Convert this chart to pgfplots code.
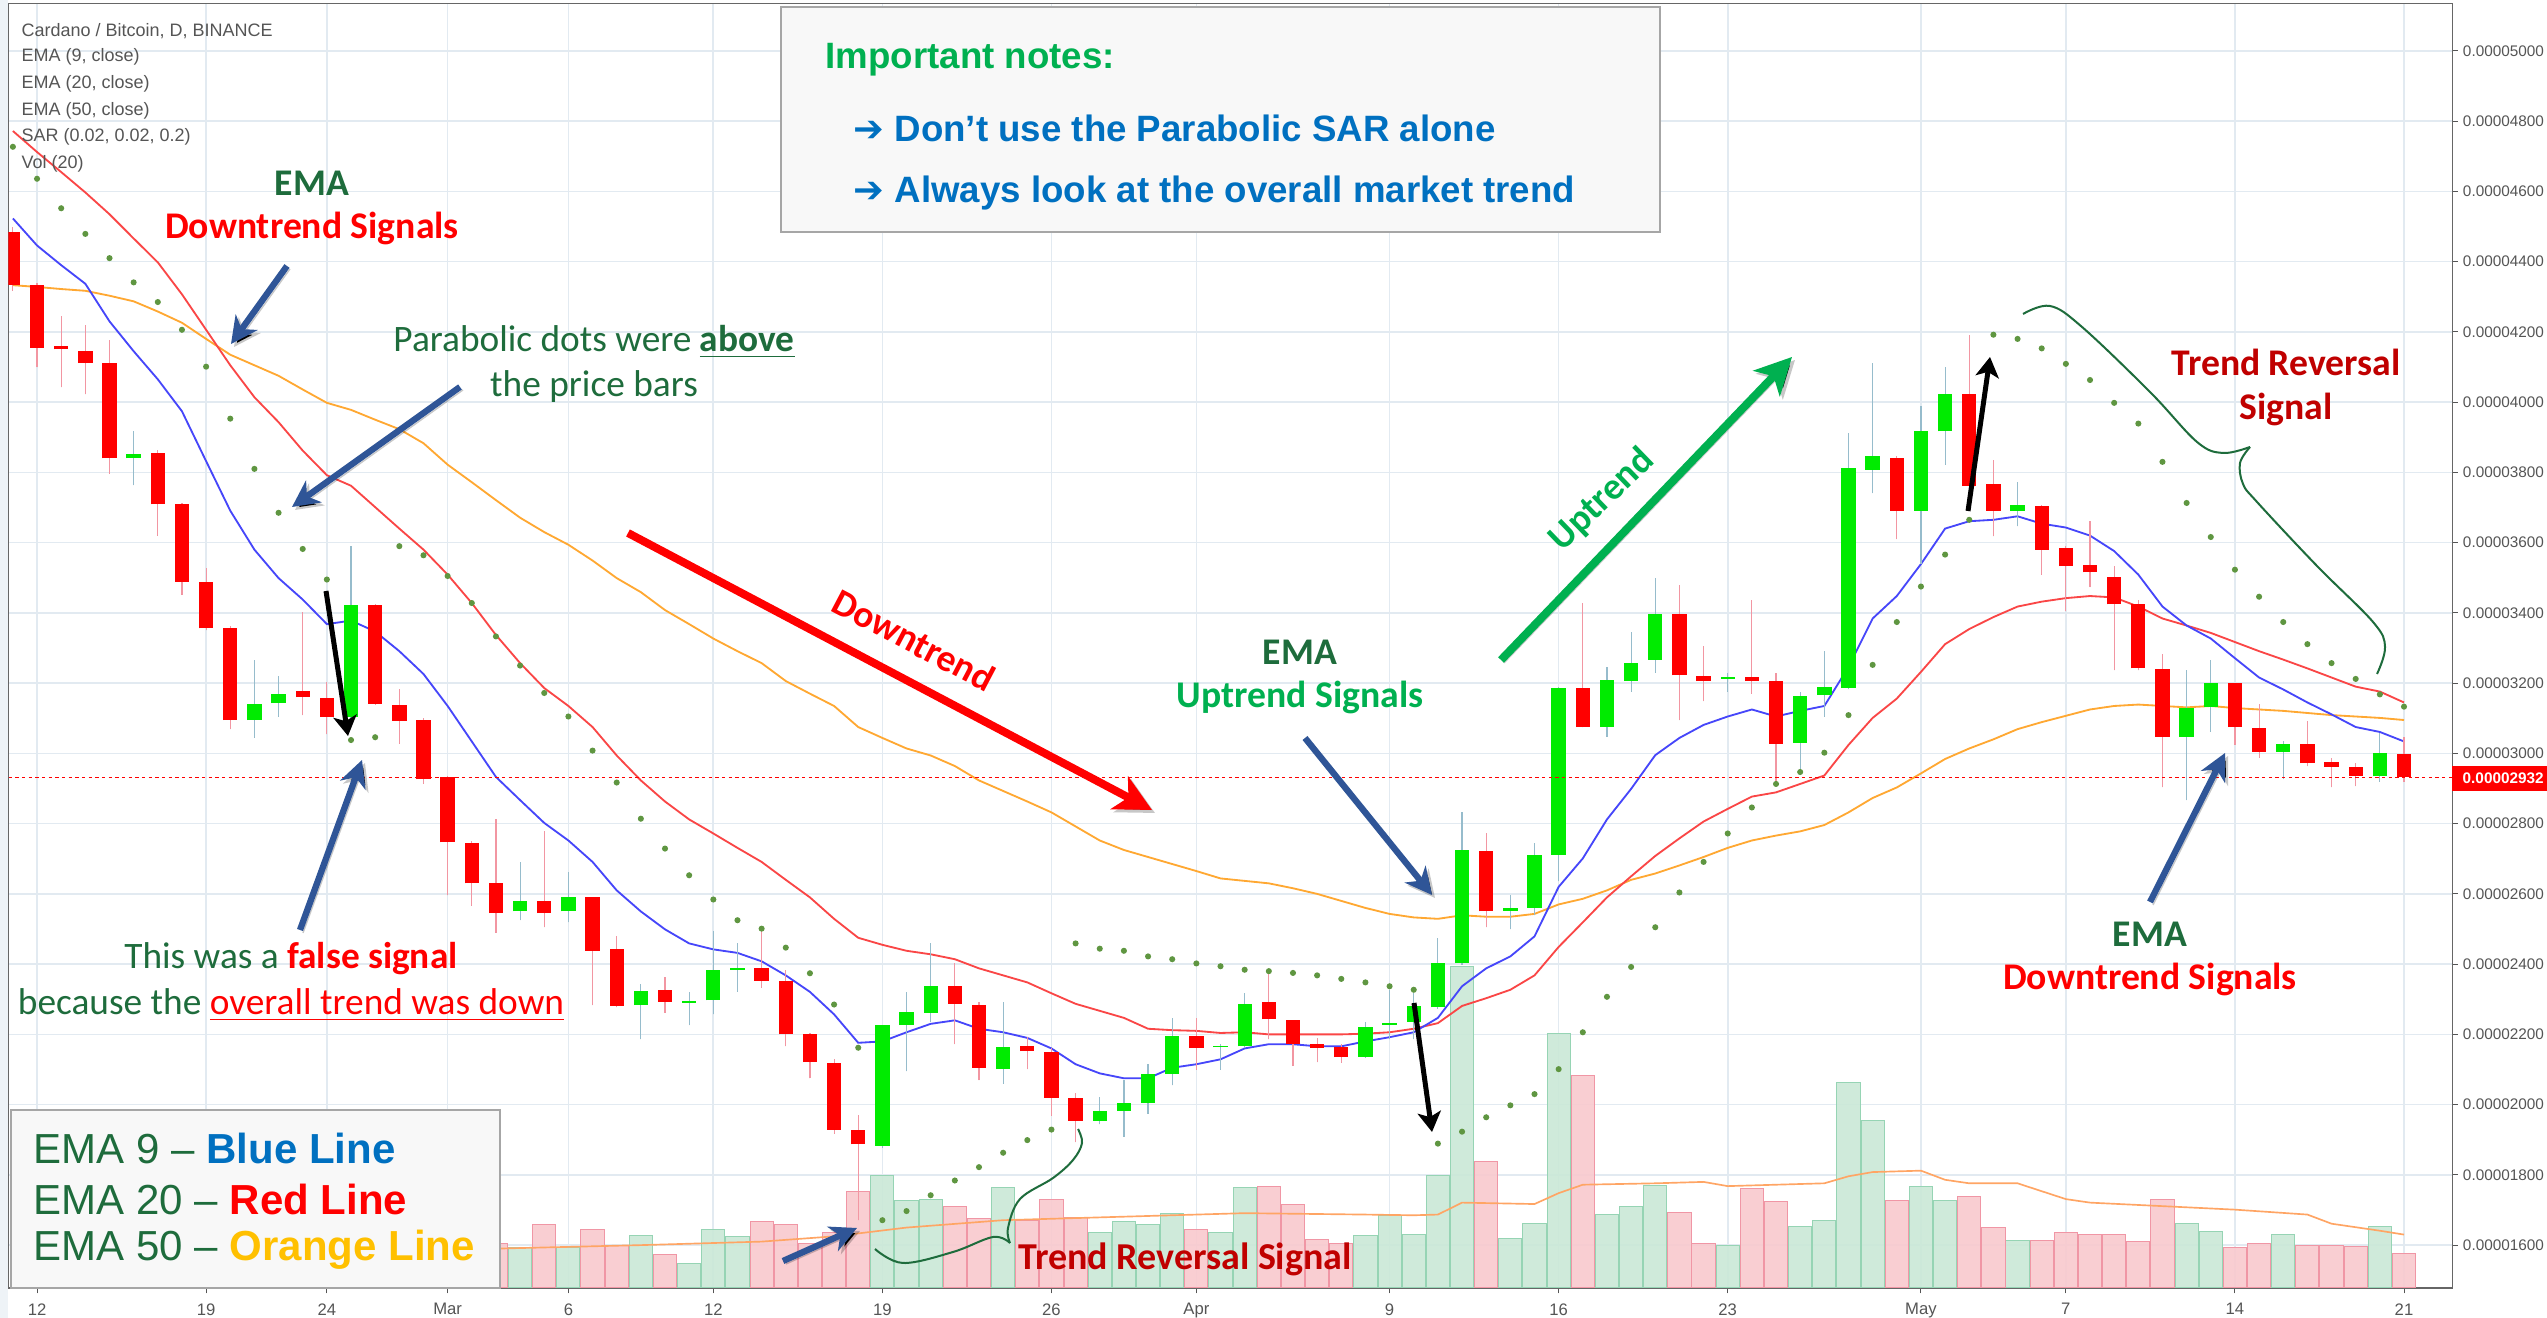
\documentclass[border=0pt]{standalone}
\usepackage{pgfplots}
\pgfplotsset{compat=1.18}
\usepackage{pgfplotstable}
\usepackage{fontspec}
\usetikzlibrary{arrows.meta}
\setmainfont{Carlito}
\newfontfamily\arial{Liberation Sans}
\newfontfamily\dejavu{DejaVu Sans}

\definecolor{gridc}{RGB}{226,234,241}
\definecolor{candleG}{RGB}{0,235,0}
\definecolor{candleR}{RGB}{255,0,0}
\definecolor{wickG}{RGB}{150,188,204}
\definecolor{wickR}{RGB}{242,150,162}
\definecolor{ema9}{RGB}{70,70,250}
\definecolor{ema20}{RGB}{250,70,70}
\definecolor{ema50}{RGB}{255,168,50}
\definecolor{sarc}{RGB}{95,150,65}
\definecolor{volG}{RGB}{202,232,215}
\definecolor{volGb}{RGB}{150,212,180}
\definecolor{volR}{RGB}{249,201,206}
\definecolor{volRb}{RGB}{240,150,165}
\definecolor{volma}{RGB}{255,165,100}
\definecolor{annblue}{RGB}{47,85,151}
\definecolor{dgreen}{RGB}{30,108,60}
\definecolor{bgreen}{RGB}{0,176,80}
\definecolor{dred}{RGB}{192,0,0}
\definecolor{nblue}{RGB}{0,112,192}
\definecolor{lorange}{RGB}{255,192,0}
\definecolor{labgray}{RGB}{85,85,85}
\definecolor{boxfill}{RGB}{248,248,248}

% daily candles, price in 1e-8 BTC; day 0 = Feb 12
\pgfplotstableread{
d O H L C
-1 4483 4500 4317 4333
0 4333 4340 4099 4155
1 4160 4244 4042 4150
2 4147 4220 4022 4111
3 4111 4176 3796 3840
5 3854 3865 3620 3709
6 3709 3713 3452 3489
7 3489 3527 3350 3356
8 3358 3364 3069 3095
11 3178 3402 3109 3160
12 3158 3202 3055 3105
14 3422 3425 3138 3141
15 3139 3182 3028 3093
16 3095 3101 2913 2927
17 2933 2935 2596 2747
18 2745 2750 2566 2630
19 2630 2812 2489 2545
21 2580 2778 2505 2545
23 2590 2592 2283 2438
24 2442 2479 2277 2281
26 2325 2364 2261 2293
30 2388 2503 2333 2352
31 2352 2382 2166 2200
32 2200 2204 2075 2121
33 2119 2129 1917 1929
34 1929 1970 1671 1887
38 2337 2402 2172 2287
39 2285 2291 2069 2105
41 2166 2192 2101 2152
42 2150 2160 1968 2020
43 2018 2034 1893 1954
48 2196 2247 2099 2162
51 2293 2384 2186 2243
52 2240 2242 2111 2172
53 2172 2190 2121 2162
54 2164 2172 2119 2135
60 2721 2772 2505 2550
64 3186 3428 3075 3075
68 3398 3479 3095 3222
69 3220 3307 3149 3206
71 3218 3438 3170 3206
72 3206 3230 2919 3028
77 3842 3848 3610 3691
80 4024 4192 3691 3762
81 3766 3836 3618 3691
83 3705 3707 3509 3580
84 3586 3590 3404 3533
85 3535 3661 3473 3515
86 3503 3533 3236 3424
87 3424 3438 3236 3242
88 3240 3283 2903 3048
91 3200 3200 3024 3075
92 3073 3141 2988 3004
94 3028 3093 2964 2972
95 2976 2988 2903 2962
96 2962 2972 2907 2937
98 2998 3048 2919 2932
}\redc

\pgfplotstableread{
d O H L C
4 3840 3919 3764 3852
9 3095 3267 3044 3141
10 3143 3220 3105 3170
13 3105 3590 3100 3422
20 2550 2691 2525 2580
22 2550 2661 2519 2590
25 2283 2344 2186 2323
27 2290 2321 2226 2296
28 2297 2495 2257 2384
29 2384 2459 2321 2389
35 1883 2226 1877 2226
36 2226 2321 2095 2263
37 2261 2459 2236 2337
40 2101 2293 2059 2164
44 1954 2022 1944 1982
45 1982 2069 1909 2006
46 2006 2115 1974 2087
47 2087 2247 2055 2196
49 2164 2172 2099 2168
50 2166 2317 2160 2287
55 2135 2236 2133 2222
56 2226 2327 2186 2232
57 2236 2317 2186 2281
58 2277 2475 2273 2402
59 2402 2832 2398 2725
61 2552 2596 2499 2560
62 2560 2745 2539 2711
63 2711 3190 2636 3186
65 3075 3246 3048 3210
66 3206 3347 3176 3257
67 3267 3499 3230 3398
70 3212 3230 3176 3218
73 3030 3176 2947 3162
74 3166 3291 3105 3190
75 3186 3913 3182 3812
76 3808 4111 3741 3848
78 3691 3990 3539 3917
79 3917 4099 3822 4024
82 3691 3772 3646 3707
89 3048 3236 2867 3129
90 3133 3267 3061 3200
93 3004 3034 2927 3028
97 2935 3059 2919 3000
}\greenc

\pgfplotstableread{
d e9 e20 e50
-1 4523 4772 4333
0 4446 4712 4328
1 4390 4655 4322
2 4337 4597 4317
3 4230 4535 4303
4 4145 4466 4287
5 4065 4398 4258
6 3974 4307 4226
7 3832 4206 4180
8 3691 4105 4135
9 3580 4014 4105
10 3499 3943 4075
11 3438 3862 4036
12 3368 3792 3998
13 3378 3762 3978
14 3347 3701 3950
15 3291 3640 3923
16 3226 3580 3883
17 3135 3509 3822
18 3034 3428 3772
19 2933 3337 3721
20 2867 3257 3671
21 2802 3186 3630
22 2752 3135 3594
23 2691 3075 3549
24 2610 2994 3499
25 2550 2923 3459
26 2499 2863 3408
27 2459 2812 3368
28 2442 2772 3327
29 2432 2731 3291
30 2408 2691 3257
31 2368 2640 3206
32 2321 2590 3170
33 2257 2529 3135
34 2176 2475 3075
35 2180 2455 3044
36 2206 2438 3014
37 2230 2428 2994
38 2240 2414 2964
39 2216 2388 2923
40 2206 2368 2893
41 2190 2348 2863
42 2160 2317 2832
43 2115 2287 2792
44 2089 2267 2752
45 2075 2247 2725
46 2075 2216 2705
47 2105 2212 2685
48 2115 2210 2665
49 2129 2204 2644
50 2160 2206 2637
51 2172 2200 2630
52 2172 2200 2616
53 2166 2200 2600
54 2166 2200 2580
55 2180 2202 2560
56 2192 2206 2543
57 2206 2216 2533
58 2247 2232 2529
59 2337 2281 2539
60 2388 2303 2535
61 2422 2327 2535
62 2479 2368 2543
63 2620 2449 2570
64 2701 2519 2586
65 2812 2590 2610
66 2899 2650 2640
67 2995 2708 2658
68 3044 2758 2681
69 3081 2806 2705
70 3105 2842 2731
71 3125 2877 2752
72 3105 2889 2766
73 3121 2913 2778
74 3135 2937 2796
75 3246 3024 2832
76 3384 3101 2873
77 3448 3156 2903
78 3539 3232 2943
79 3640 3311 2984
80 3661 3354 3014
81 3665 3388 3040
82 3675 3418 3069
83 3654 3432 3089
84 3643 3442 3107
85 3620 3448 3125
86 3576 3444 3135
87 3509 3418 3139
88 3418 3384 3135
89 3364 3364 3131
90 3327 3343 3135
91 3271 3317 3129
92 3216 3291 3125
93 3182 3267 3121
94 3145 3242 3115
95 3111 3216 3109
96 3075 3190 3105
97 3061 3176 3101
98 3034 3145 3095
}\ema

\pgfplotstableread{
d s
-1 4727
0 4636
1 4552
2 4479
3 4410
4 4341
5 4285
6 4206
7 4101
8 3953
9 3810
10 3685
11 3582
12 3495
13 3038
14 3046
15 3590
16 3564
17 3505
18 3428
19 3333
20 3250
21 3172
22 3105
23 3008
24 2917
25 2814
26 2729
27 2653
28 2584
29 2525
30 2501
31 2447
32 2374
33 2285
34 2162
35 1671
36 1697
37 1742
38 1784
39 1822
40 1863
41 1899
42 1929
43 2459
44 2444
45 2438
46 2422
47 2414
48 2402
49 2394
50 2384
51 2380
52 2375
53 2368
54 2358
55 2348
56 2337
57 2327
58 1889
59 1923
60 1964
61 1998
62 2030
63 2101
64 2206
65 2307
66 2392
67 2505
68 2604
69 2691
70 2772
71 2846
72 2913
73 2947
74 3002
75 3109
76 3252
77 3374
78 3475
79 3566
80 3665
81 4192
82 4180
83 4153
84 4109
85 4063
86 3998
87 3939
88 3830
89 3713
90 3616
91 3523
92 3446
93 3374
94 3311
95 3257
96 3212
97 3168
98 3133
}\sar

% volume bar tops, drawn in price units (overlay)
\pgfplotstableread{
d v
20 1594
22 1594
25 1626
27 1548
28 1645
29 1624
35 1798
36 1727
37 1731
40 1764
44 1636
45 1667
46 1659
47 1689
49 1636
50 1764
55 1626
56 1683
57 1630
58 1798
59 2394
61 1618
62 1663
63 2202
65 1687
66 1709
67 1770
70 1598
73 1653
74 1671
75 2063
76 1954
78 1766
79 1727
82 1612
89 1663
90 1640
93 1630
97 1653
}\volg

\pgfplotstableread{
d v
19 1606
21 1659
23 1645
24 1600
26 1572
30 1667
31 1659
32 1606
33 1636
34 1753
38 1709
39 1676
41 1671
42 1731
43 1679
48 1645
51 1766
52 1717
53 1616
54 1606
60 1837
64 2083
68 1693
69 1606
71 1762
72 1725
77 1727
80 1739
81 1650
83 1612
84 1636
85 1630
86 1630
87 1610
88 1731
91 1594
92 1606
94 1598
95 1598
96 1596
98 1576
}\volr

\pgfplotstableread{
d m
19 1590
25 1600
30 1610
33 1625
36 1650
40 1671
45 1681
50 1691
55 1687
57 1685
58 1687
59 1721
62 1717
63 1748
64 1772
67 1776
69 1780
70 1768
74 1776
75 1796
76 1808
78 1812
79 1786
80 1776
82 1776
84 1731
85 1721
88 1711
91 1701
94 1687
95 1661
97 1641
98 1630
}\volma

\begin{document}
\begin{tikzpicture}
\path[use as bounding box, fill=white] (0,0) rectangle (764.1pt,395.4pt);
\fill[gridc!60] (0,0) rectangle (2.4pt,395.4pt);

\begin{axis}[
  scale only axis,
  width=733.2pt, height=385.35pt,
  at={(2.49pt,9pt)}, anchor=south west,
  xmin=-1.19, xmax=100, ymin=1478, ymax=5135,
  axis line style={draw=black!60, line width=0.4pt},
  tick align=outside, major tick length=1.6pt,
  tick style={labgray, line width=0.3pt},
  xtick pos=bottom, ytick pos=right, yticklabel pos=right,
  xtick={0,7,12,17,22,28,35,42,48,56,63,70,78,84,91,98},
  xticklabels={12,19,24,Mar,6,12,19,26,Apr,9,16,23,May,7,14,21},
  ytick={1600,1800,...,5000},
  yticklabels={0.00001600,0.00001800,0.00002000,0.00002200,0.00002400,0.00002600,0.00002800,0.00003000,0.00003200,0.00003400,0.00003600,0.00003800,0.00004000,0.00004200,0.00004400,0.00004600,0.00004800,0.00005000},
  xticklabel style={font=\arial\fontsize{5}{6}\selectfont, text=labgray, yshift=0.5pt},
  yticklabel style={font=\arial\fontsize{4.6}{5.5}\selectfont, text=labgray, inner sep=0pt, xshift=1.4pt},
  grid=major, major grid style={gridc, line width=0.5pt},
  body/.style={only marks, mark size=0pt, mark options={draw=none, fill=none},
    error bars/.cd, y dir=plus, y explicit, error mark=none},
]
% volume
\addplot[ybar, bar width=0.96, bar shift=0pt, fill=volG, draw=volGb, line width=0.3pt, fill opacity=0.9] table[x=d, y=v] {\volg};
\addplot[ybar, bar width=0.96, bar shift=0pt, fill=volR, draw=volRb, line width=0.3pt, fill opacity=0.9] table[x=d, y=v] {\volr};
\addplot[volma, line width=0.5pt] table[x=d, y=m] {\volma};
% moving averages
\addplot[ema50, line width=0.55pt] table[x=d, y=e50] {\ema};
\addplot[ema20, line width=0.55pt] table[x=d, y=e20] {\ema};
\addplot[ema9, line width=0.55pt] table[x=d, y=e9] {\ema};
% parabolic SAR
\addplot[only marks, mark=*, mark size=0.7pt, sarc, mark options={draw=sarc, fill=sarc}] table[x=d, y=s] {\sar};
% wicks
\addplot[body, error bar style={line width=0.35pt, wickR}]
  table[x=d, y=L, y error expr=\thisrow{H}-\thisrow{L}] {\redc};
\addplot[body, error bar style={line width=0.35pt, wickG}]
  table[x=d, y=L, y error expr=\thisrow{H}-\thisrow{L}] {\greenc};
% bodies
\addplot[body, error bar style={line width=4.3pt, candleR}]
  table[x=d, y=C, y error expr=\thisrow{O}-\thisrow{C}] {\redc};
\addplot[body, error bar style={line width=4.3pt, candleG}]
  table[x=d, y=O, y error expr=\thisrow{C}-\thisrow{O}] {\greenc};
% last price line
\addplot[red, line width=0.4pt, dash pattern=on 1pt off 1pt] coordinates {(-2,2932) (101,2932)};
\end{axis}

% annotations, in pixels of the reference (origin top left)
\begin{scope}[shift={(0pt,395.4pt)}, x=0.3pt, y=-0.3pt]
\tikzset{shadow/.style={preaction={draw=black, draw opacity=0.22, transform canvas={shift={(0.9pt,-0.9pt)}}}},
         barrow/.style={annblue, line width=1.9pt, shadow, -{Stealth[length=8pt,width=8pt,inset=2.5pt]}},
         karrow/.style={black, line width=1.5pt, -{Stealth[length=6pt,width=7pt,inset=1.5pt]}},
         big/.style={line width=2.4pt, shadow, -{Stealth[length=11pt,width=11pt,inset=3pt]}}}
% header
\begin{scope}[every node/.style={anchor=west, inner sep=0pt, text=labgray, font=\arial\fontsize{5.4}{6}\selectfont}]
\node at (21,31) {Cardano / Bitcoin, D, BINANCE};
\node at (21,57) {EMA (9, close)};
\node at (21,84) {EMA (20, close)};
\node at (21,111) {EMA (50, close)};
\node at (21,137) {SAR (0.02, 0.02, 0.2)};
\node at (21,164) {Vol (20)};
\end{scope}
% price tag
\fill[red] (2452,766) rectangle (2547,791);
\node[white, font=\arial\bfseries\fontsize{4.6}{5.5}\selectfont, inner sep=0pt, anchor=west] at (2462,778.5) {0.00002932};

% notes box
\draw[gray!70, line width=0.6pt, fill=boxfill] (781,7) rectangle (1660,232);
\begin{scope}[every node/.style={anchor=west, inner sep=0pt, font=\arial\bfseries\fontsize{11}{12}\selectfont}]
\node[text=bgreen] at (825,60) {Important notes:};
\node[text=nblue] at (853,128) {{\dejavu ➔} Don’t use the Parabolic SAR alone};
\node[text=nblue] at (853,193) {{\dejavu ➔} Always look at the overall market trend};
\end{scope}

% legend box
\draw[gray!70, line width=0.6pt, fill=boxfill] (11,1110) rectangle (500,1288);
\begin{scope}[every node/.style={anchor=west, inner sep=0pt, text=dgreen, font=\arial\fontsize{12.6}{14}\selectfont}]
\node at (33,1148) {EMA 9 – \textcolor{nblue}{\bfseries Blue Line}};
\node at (33,1199) {EMA 20 – \textcolor{red}{\bfseries Red Line}};
\node at (33,1250) {EMA 50 – \textcolor{lorange}{\bfseries Orange Line}};
\end{scope}

% text labels
\node[align=center, font=\bfseries\fontsize{11.3}{12.9}\selectfont] at (312,208)
  {\textcolor{dgreen}{EMA}\\\textcolor{red}{Downtrend Signals}};
\node[align=center, text=dgreen, font=\fontsize{11.2}{13.5}\selectfont] at (594,364)
  {Parabolic dots were \underline{\textbf{above}}\\the price bars};
\node[align=center, text=dgreen, font=\fontsize{11.2}{13.8}\selectfont] at (291,982)
  {This was a \textcolor{red}{\textbf{false signal}}\\because the \textcolor{red}{\underline{overall trend was down}}};
\node[rotate=-27.7, text=red, font=\bfseries\fontsize{11.3}{13}\selectfont] at (914,640) {Downtrend};
\node[align=center, font=\bfseries\fontsize{11.3}{12.9}\selectfont] at (1300,677)
  {\textcolor{dgreen}{EMA}\\\textcolor{bgreen}{Uptrend Signals}};
\node[rotate=44, text=bgreen, font=\bfseries\fontsize{11.3}{13}\selectfont] at (1602,500) {Uptrend};
\node[align=center, text=dred, font=\bfseries\fontsize{11.3}{13.2}\selectfont] at (2286,387)
  {Trend Reversal\\Signal};
\node[align=center, font=\bfseries\fontsize{11.3}{12.9}\selectfont] at (2150,959)
  {\textcolor{dgreen}{EMA}\\\textcolor{red}{Downtrend Signals}};
\node[text=dred, font=\bfseries\fontsize{11.4}{13}\selectfont] at (1185,1259) {Trend Reversal Signal};

% arrows
\draw[barrow] (287,266) -- (231,344);
\draw[barrow] (460,387) -- (292,507);
\draw[barrow] (300,930) -- (362,760);
\draw[barrow] (1305,738) -- (1432,895);
\draw[barrow] (2150,902) -- (2225,753);
\draw[barrow] (783,1261) -- (857,1228);
\draw[karrow] (326,591) -- (348,736);
\draw[karrow] (1414,1003) -- (1432,1132);
\draw[karrow] (1968,511) -- (1990,357);
\draw[big, red] (628,533) -- (1152,810);
\draw[big, bgreen] (1501,660) -- (1792,357);

% braces
\draw[dgreen, line width=0.6pt] plot[smooth, tension=0.6] coordinates {
  (2023,314) (2050,306) (2082,327) (2150,392) (2197,442) (2223,453) (2250,447)};
\draw[dgreen, line width=0.6pt] plot[smooth, tension=0.6] coordinates {
  (2250,447) (2240,463) (2243,484) (2257,502) (2317,566) (2373,622) (2385,647) (2377,674)};
\draw[dgreen, line width=0.6pt] plot[smooth, tension=0.6] coordinates {
  (875,1249) (903,1263) (953,1252) (993,1237) (1010,1243)};
\draw[dgreen, line width=0.6pt] plot[smooth, tension=0.6] coordinates {
  (1010,1243) (1008,1228) (1020,1199) (1053,1178) (1073,1160) (1082,1143) (1078,1129)};
\end{scope}
\end{tikzpicture}
\end{document}
